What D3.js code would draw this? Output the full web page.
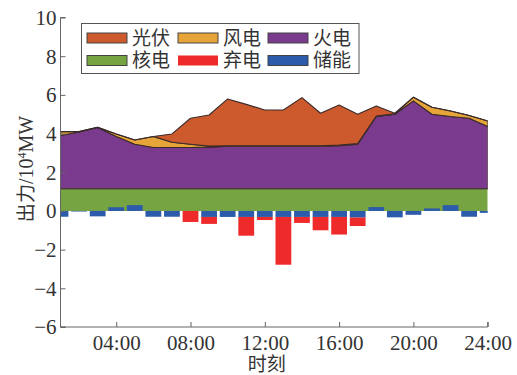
<!DOCTYPE html>
<html><head><meta charset="utf-8">
<script src="https://cdn.jsdelivr.net/npm/d3@7"></script>
<style>body{margin:0;background:#fff}svg{display:block}</style>
</head><body>
<svg id="c" width="517" height="375"></svg>
<script>
const hours = [1,2,3,4,5,6,7,8,9,10,11,12,13,14,15,16,17,18,19,20,21,22,23,24];
const nuclear = [1.15,1.15,1.15,1.15,1.15,1.15,1.15,1.15,1.15,1.15,1.15,1.15,1.15,1.15,1.15,1.15,1.15,1.15,1.15,1.15,1.15,1.15,1.15,1.15];
const thermal = [2.75,2.93,3.16,2.70,2.30,2.13,2.13,2.13,2.15,2.20,2.20,2.20,2.20,2.20,2.20,2.22,2.30,3.73,3.85,4.54,3.85,3.73,3.64,3.21];
const wind = [0.20,0.02,0.02,0.13,0.22,0.57,0.27,0.17,0.05,0.02,0.02,0.02,0.02,0.02,0.02,0.03,0.03,0.02,0.02,0.19,0.36,0.29,0.14,0.29];
const pv = [0,0,0,0,0,0,0.43,1.34,1.61,2.42,2.14,1.85,1.85,2.49,1.68,2.08,1.52,0.53,0.03,0,0,0,0,0];
const storage = [-0.30,-0.03,-0.28,0.19,0.30,-0.30,-0.30,0,-0.31,-0.31,-0.31,-0.31,-0.31,-0.31,-0.31,-0.31,-0.33,0.20,-0.33,-0.20,0.13,0.30,-0.30,-0.10];
const curtail = [0,0,0,0,0,0,0,0.57,0.36,0,0.97,0.16,2.47,0.31,0.69,0.91,0.45,0,0,0,0,0,0,0];
const xTicks = [4,8,12,16,20,24];
const xTickLabels = ["04:00","08:00","12:00","16:00","20:00","24:00"];
const yTicks = [-6,-4,-2,0,2,4,6,8,10];
const legendNames = ["光伏","风电","火电","核电","弃电","储能"];
const colors = {"光伏":"#CD5A2C","风电":"#E6A439","火电":"#7A3A8E","核电":"#77A443","弃电":"#EE2A2B","储能":"#2B5BAA"};

const svg = d3.select("#c");
const x = d3.scaleLinear().domain([1,24]).range([60.5,487.7]);
const y = d3.scaleLinear().domain([-6,10]).range([327,17.5]);
const fontSerif = "'Liberation Serif','Times New Roman',serif";
const fontCJK = "'Noto Sans CJK SC','Liberation Serif',serif";

svg.append("defs").append("clipPath").attr("id","clip")
  .append("rect").attr("x",x(1)).attr("y",y(10)).attr("width",x(24)-x(1)).attr("height",y(-6)-y(10));

const rows = hours.map((h,i)=>({h, nuclear:nuclear[i], thermal:thermal[i], wind:wind[i], pv:pv[i]}));
const keys = ["nuclear","thermal","wind","pv"];
const keyName = {nuclear:"核电",thermal:"火电",wind:"风电",pv:"光伏"};
const series = d3.stack().keys(keys)(rows);
const area = d3.area().x(d=>x(d.data.h)).y0(d=>y(d[0])).y1(d=>y(d[1]));

const g = svg.append("g").attr("clip-path","url(#clip)");
g.selectAll("path.a").data(series).join("path")
  .attr("d",area)
  .attr("fill",d=>colors[keyName[d.key]])
  .attr("stroke",d=>d.key==="nuclear"?"none":"#3a2a2a")
  .attr("stroke-width",1.1).attr("stroke-linejoin","round");
g.append("path").datum(rows)
  .attr("d",d3.line().x(d=>x(d.h)).y(d=>y(d.nuclear)))
  .attr("fill","none").attr("stroke","#4a3a3a").attr("stroke-width",1);

const bw = 0.85*(x(2)-x(1));
g.selectAll("rect.cur").data(hours.map((h,i)=>({h,base:Math.min(storage[i],0),v:curtail[i]})).filter(d=>d.v>0)).join("rect")
  .attr("x",d=>x(d.h)-bw/2).attr("width",bw)
  .attr("y",d=>y(d.base)).attr("height",d=>y(d.base-d.v)-y(d.base))
  .attr("fill",colors["弃电"]);
g.selectAll("rect.st").data(hours.map((h,i)=>({h,v:storage[i]}))).join("rect")
  .attr("x",d=>x(d.h)-bw/2).attr("width",bw)
  .attr("y",d=>y(Math.max(0,d.v))).attr("height",d=>Math.abs(y(d.v)-y(0)))
  .attr("fill",colors["储能"]);

const axisColor = "#666";
const yAxis = svg.append("g").attr("transform",`translate(${x(1)},0)`)
  .call(d3.axisRight(y).tickValues(yTicks).tickSize(5).tickFormat(d3.format("d")));
yAxis.select(".domain").attr("stroke",axisColor).attr("d",`M5,${y(-6)}H0V${y(10)}H5`);
yAxis.selectAll(".tick line").attr("stroke",axisColor);
yAxis.selectAll(".tick text").attr("x",-4).attr("text-anchor","end")
  .attr("font-family",fontSerif).attr("font-size",21).attr("fill","#333").attr("dy","0.33em");

const xAxis = svg.append("g").attr("transform",`translate(0,${y(-6)})`)
  .call(d3.axisTop(x).tickValues(xTicks).tickSize(5).tickFormat((d,i)=>xTickLabels[i]));
xAxis.select(".domain").attr("stroke",axisColor).attr("d",`M${x(1)},0H${x(24)}V-5`);
xAxis.selectAll(".tick line").attr("stroke",axisColor);
xAxis.selectAll(".tick text").attr("y",8).attr("dy","0.71em")
  .attr("font-family",fontSerif).attr("font-size",21).attr("fill","#333");

const yt = svg.append("text").attr("transform","translate(33,169) rotate(-90)")
  .attr("text-anchor","middle").attr("font-family",fontCJK).attr("font-size",19).attr("fill","#333");
yt.append("tspan").text("出力");
yt.append("tspan").attr("font-family",fontSerif).attr("font-size",20).text("/10");
yt.append("tspan").attr("font-size",12).attr("dy",-7).attr("font-family",fontSerif).text("4");
yt.append("tspan").attr("dy",7).attr("font-family",fontSerif).attr("font-size",20).text("MW");
svg.append("text").attr("x",x(12.1)).attr("y",371).attr("text-anchor","middle")
  .attr("font-family",fontCJK).attr("font-size",19).attr("fill","#333").text("时刻");

const lg = svg.append("g");
lg.append("rect").attr("x",81.5).attr("y",23.5).attr("width",277.5).attr("height",50)
  .attr("fill","#fff").attr("stroke","#555").attr("stroke-width",1);
const colX = [87,178,268];
const rowY = [38,60.5];
legendNames.forEach((n,i)=>{
  const cx = colX[i%3], cy = rowY[Math.floor(i/3)];
  lg.append("rect").attr("x",cx).attr("y",cy-5).attr("width",40).attr("height",10)
    .attr("fill",colors[n]).attr("stroke",(n==="弃电")?"none":"#444").attr("stroke-width",1);
  lg.append("text").attr("x",cx+45).attr("y",cy).attr("dy","0.36em")
    .attr("font-family",fontCJK).attr("font-size",19).attr("fill","#333").text(n);
});
</script>
</body></html>
